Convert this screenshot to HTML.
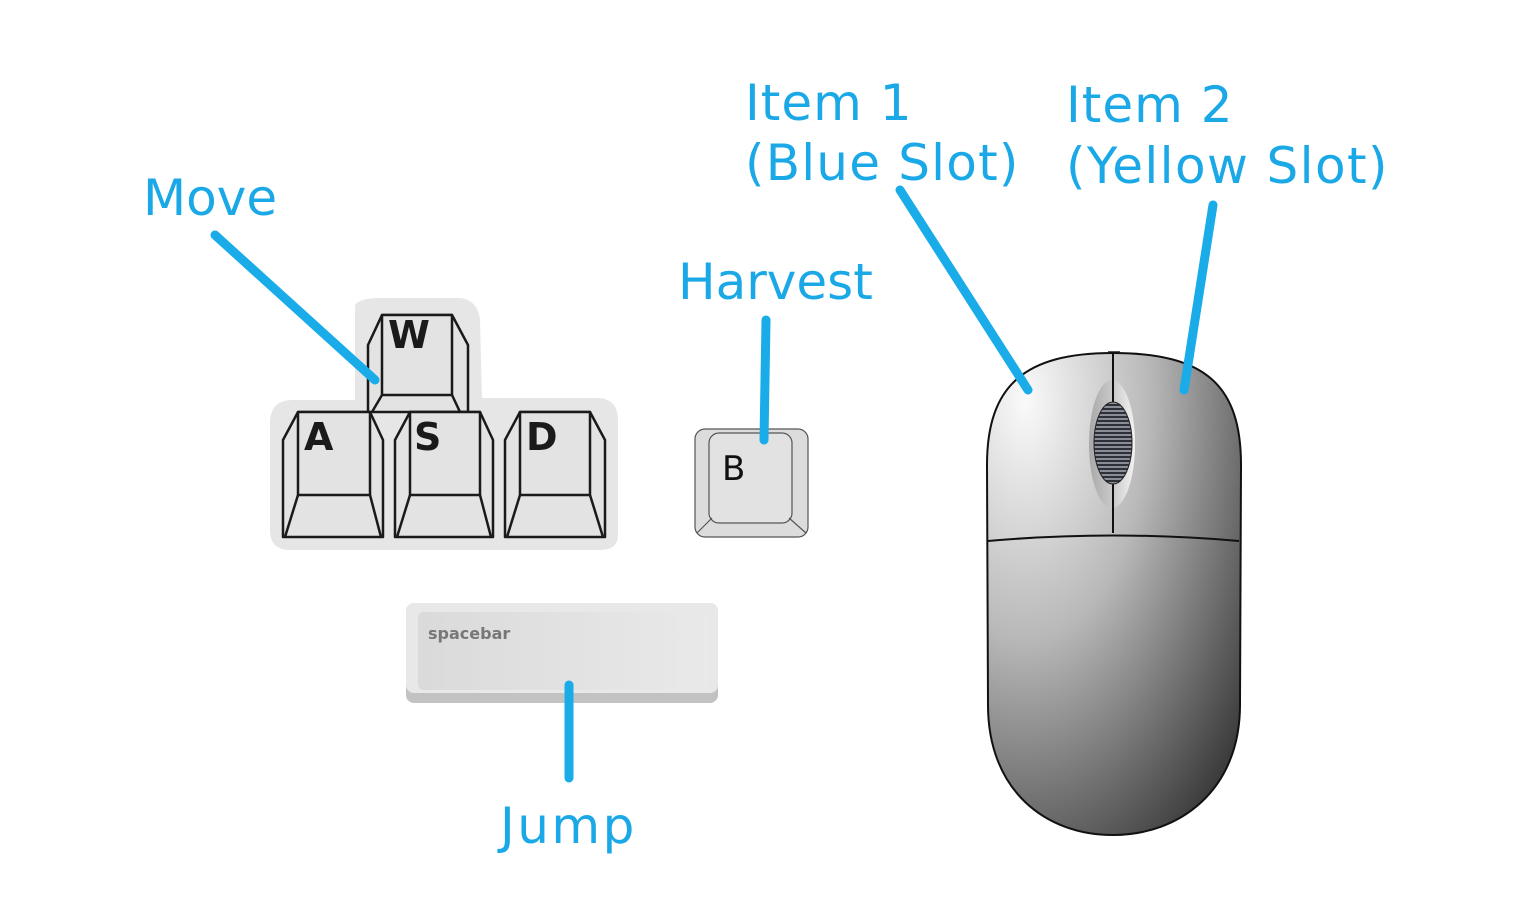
<!DOCTYPE html>
<html><head><meta charset="utf-8"><style>
html,body{margin:0;padding:0;background:#fff;}
svg{display:block;}
.lbl{font-family:"DejaVu Sans","Liberation Sans",sans-serif;font-size:50px;fill:#1aa9e6;}
.ln{stroke:#19ace8;stroke-width:9;stroke-linecap:round;fill:none;}
.k{fill:#e3e3e3;stroke:#1a1a1a;stroke-width:2.5;stroke-linejoin:round;}
.kl{font-family:"DejaVu Sans","Liberation Sans",sans-serif;font-weight:bold;font-size:38px;fill:#1a1a1a;}
</style></head><body>
<svg width="1515" height="922" viewBox="0 0 1515 922" xmlns="http://www.w3.org/2000/svg">
<defs>
<radialGradient id="mg" cx="0.15" cy="0.1" r="1.1">
<stop offset="0" stop-color="#fafafa"/><stop offset="0.45" stop-color="#b8b8b8"/><stop offset="1" stop-color="#3a3a3a"/>
</radialGradient>
<pattern id="wp" width="4" height="4" patternUnits="userSpaceOnUse"><rect width="4" height="2" fill="#2e3038"/><rect y="2" width="4" height="2" fill="#8a8c98"/></pattern>
<linearGradient id="sg" x1="0" y1="0" x2="1" y2="0"><stop offset="0" stop-color="#dadada"/><stop offset="1" stop-color="#e9e9e9"/></linearGradient>
<linearGradient id="og" x1="0" y1="0" x2="1" y2="0"><stop offset="0" stop-color="#a8a8a8"/><stop offset="0.6" stop-color="#d0d0d0"/><stop offset="1" stop-color="#f4f4f4"/></linearGradient>
</defs>

<g>
<path d="M355,305 Q360,298 380,298 L460,298 Q478,300 480,320 L482,398 L600,398 Q618,400 618,420 L618,535 Q618,550 600,550 L290,550 Q270,550 270,530 L270,420 Q272,400 292,400 L355,400 Z" fill="#e6e6e6"/>
<g>
<path class="k" d="M382,315 L452,315 L468,345 L468,412 L368,412 L368,345 Z"/>
<path class="k" d="M382,315 L452,315 L452,395 L382,395 Z"/>
<path class="k" d="M382,395 L372,412 M452,395 L460,412"/>
<text class="kl" x="388" y="348">W</text>
</g>
<g>
<path class="k" d="M298,412 L370,412 L383,440 L383,537 L283,537 L283,440 Z"/>
<path class="k" d="M298,412 L370,412 L370,495 L298,495 Z"/>
<path class="k" d="M298,495 L285,537 M370,495 L381,537"/>
<text class="kl" x="304" y="450">A</text>
</g>
<g>
<path class="k" d="M410,412 L480,412 L493,440 L493,537 L395,537 L395,440 Z"/>
<path class="k" d="M410,412 L480,412 L480,495 L410,495 Z"/>
<path class="k" d="M410,495 L397,537 M480,495 L491,537"/>
<text class="kl" x="414" y="450">S</text>
</g>
<g>
<path class="k" d="M520,412 L590,412 L605,440 L605,537 L505,537 L505,440 Z"/>
<path class="k" d="M520,412 L590,412 L590,495 L520,495 Z"/>
<path class="k" d="M520,495 L507,537 M590,495 L603,537"/>
<text class="kl" x="526" y="450">D</text>
</g>
</g>

<g>
<rect x="695" y="429" width="113" height="108" rx="10" fill="#dcdcdc" stroke="#555" stroke-width="1.2"/>
<rect x="709" y="433" width="83" height="90" rx="10" fill="#e2e2e2" stroke="#555" stroke-width="1.2"/>
<path d="M712,518 L697,533 M789,518 L806,533" stroke="#555" stroke-width="1.2"/>
<text x="722" y="480" font-family="DejaVu Sans,Liberation Sans,sans-serif" font-size="34" fill="#111">B</text>
</g>

<g>
<rect x="406" y="603" width="312" height="100" rx="8" fill="#c2c2c2"/>
<rect x="406" y="603" width="312" height="90" rx="8" fill="#e8e8e8"/>
<rect x="418" y="612" width="290" height="78" rx="6" fill="url(#sg)"/>
<text x="428" y="639" font-family="DejaVu Sans,Liberation Sans,sans-serif" font-weight="bold" font-size="16" fill="#777">spacebar</text>
</g>

<g>
<rect x="1108" y="351" width="12" height="4" fill="#555"/>
<path d="M1113,353 C1205,353 1241,385 1241,465 L1240,705 C1240,790 1180,835 1113,835 C1045,835 988,790 988,705 L987,465 C987,385 1025,353 1113,353 Z" fill="url(#mg)" stroke="#111" stroke-width="2"/>
<path d="M988,541 Q1113,530 1239,541" fill="none" stroke="#111" stroke-width="2"/>
<ellipse cx="1112" cy="444" rx="23" ry="64" fill="url(#og)"/>
<line x1="1113" y1="353" x2="1113" y2="533" stroke="#111" stroke-width="2"/>
<ellipse cx="1113" cy="443" rx="19" ry="41" fill="url(#wp)" stroke="#222" stroke-width="1"/>
</g>

<line class="ln" x1="215" y1="235" x2="375" y2="380"/>
<line class="ln" x1="766" y1="320" x2="764" y2="440"/>
<line class="ln" x1="900" y1="190" x2="1028" y2="390"/>
<line class="ln" x1="1213" y1="205" x2="1184" y2="390"/>
<line class="ln" x1="569" y1="685" x2="569" y2="778"/>

<text class="lbl" x="143" y="215">Move</text>
<text class="lbl" x="678" y="299">Harvest</text>
<text class="lbl" x="745" y="120" letter-spacing="1">Item 1</text>
<text class="lbl" x="745" y="180" letter-spacing="1.2">(Blue Slot)</text>
<text class="lbl" x="1066" y="122" letter-spacing="1">Item 2</text>
<text class="lbl" x="1066" y="183" letter-spacing="1.4">(Yellow Slot)</text>
<text class="lbl" x="500" y="843" letter-spacing="2.5">Jump</text>
</svg>
</body></html>
